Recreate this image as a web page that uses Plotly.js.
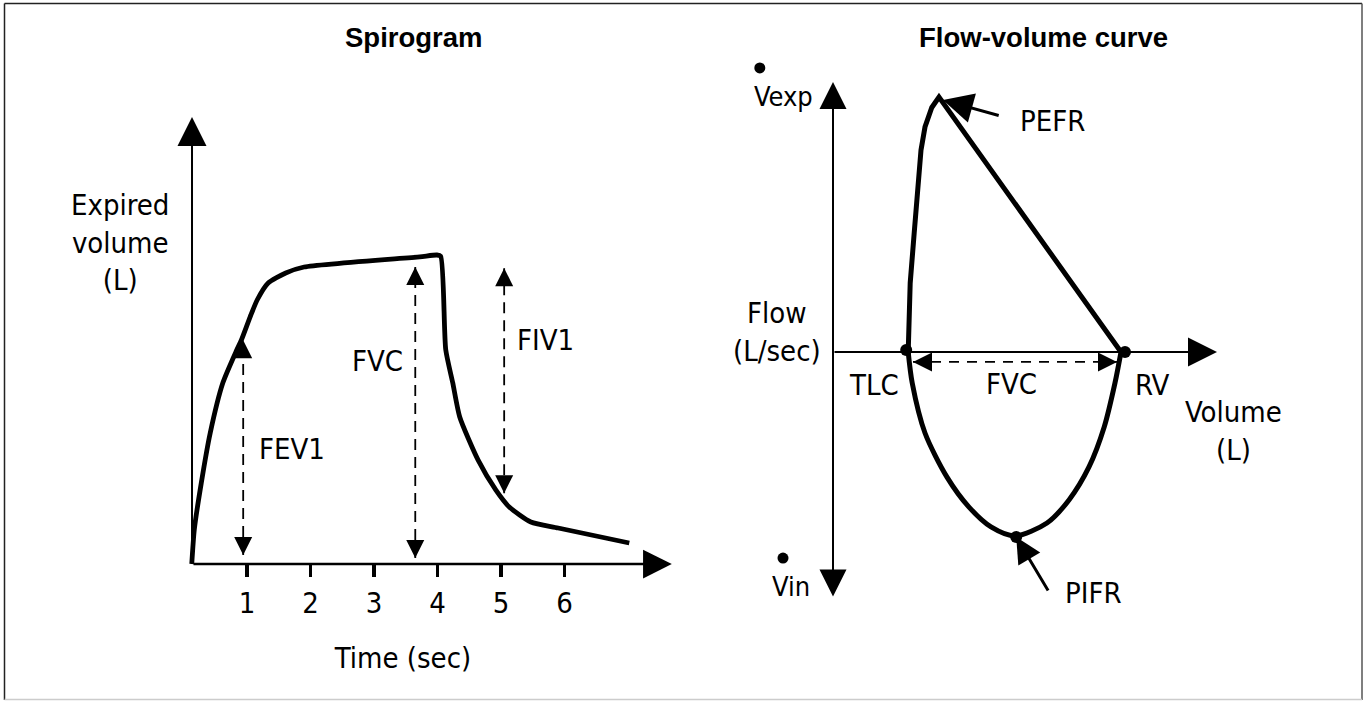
<!DOCTYPE html>
<html><head><meta charset="utf-8">
<script src="https://cdn.plot.ly/plotly-3.0.1.min.js"></script>
<style>html,body{margin:0;padding:0;background:#fff;} #chart{width:1364px;height:701px;}</style>
</head><body><div id="chart"></div>
<script>
// ---------- Spirogram data (time in s, expired volume in L) ----------
const spiroTime   = [0.13,0.17,0.28,0.42,0.62,0.84,0.91,1.05,1.16,1.33,1.61,1.90,3.72,3.99,4.05,4.13,4.24,4.35,4.64,4.92,5.13,5.47,5.90,7.02];
const spiroVolume = [0.00,0.57,1.35,2.18,3.02,3.57,3.73,4.12,4.40,4.68,4.85,4.95,5.12,5.15,5.13,3.57,3.02,2.45,1.73,1.23,0.95,0.70,0.60,0.35];
const timeTicks   = [1,2,3,4,5,6];
const timeTickText = ['1','2','3','4','5','6'];
const spiroMeasureLabels = ['FEV1','FVC','FIV1'];
const spiroMeasureTime   = [0.94, 3.65, 5.05];
const spiroMeasureTop    = [3.73, 4.95, 4.93];
const spiroMeasureBottom = [0.15, 0.10, 1.18];
const spiroAxisOrigin = [0.134, 0];
const spiroAxisEndTime = 7.69;
const spiroAxisEndVolume = 7.45;

// ---------- Flow-volume data (volume in L, flow in L/s) ----------
const expVolume  = [1.88,1.93,2.03,2.13,2.20,2.30,2.47,2.65,7.20];
const expFlow    = [0.00,2.30,3.97,5.63,6.73,7.50,8.15,8.50,0.00];
const inspVolume = [1.88,1.98,2.30,2.85,3.40,3.95,4.55,5.35,5.90,6.40,6.78,7.05,7.20];
const inspFlow   = [0.00,-1.03,-2.70,-4.17,-5.17,-5.83,-6.13,-5.70,-4.93,-3.83,-2.50,-1.03,0.00];
const keyPointNames  = ['TLC','RV','PIFR'];
const keyPointVolume = [1.83, 7.30, 4.58];
const keyPointFlow   = [0.07, 0.00, -6.17];
const pefrVolume = 2.75, pefrFlow = 8.40;
const fvcStartVolume = 2.0, fvcEndVolume = 7.1, fvcFlow = -0.33;
const flowAxisTop = 9.0, flowAxisBottom = -8.2, volumeAxisEnd = 9.6;
const vdotVolume = [-1.83, -1.25];
const vdotFlow   = [9.47, -6.87];

// ---------- styling ----------
const NARROW = '"Liberation Sans Narrow", "Arial Narrow", "DejaVu Sans Condensed", sans-serif';
const BOLD = '"Liberation Sans", Arial, sans-serif';
const W = 1364, H = 701;
const px2x = p => p / W;
const px2y = p => 1 - p / H;

const traces = [];
// spirogram curve
traces.push({x: spiroTime, y: spiroVolume, xaxis:'x', yaxis:'y', mode:'lines',
  line:{color:'black', width:4.8, shape:'spline', smoothing:0.6}, hoverinfo:'skip', showlegend:false});
// dashed measure lines
spiroMeasureLabels.forEach((lab,i)=>{
  traces.push({x:[spiroMeasureTime[i], spiroMeasureTime[i]], y:[spiroMeasureBottom[i], spiroMeasureTop[i]],
    xaxis:'x', yaxis:'y', mode:'lines', line:{color:'black', width:1.8, dash:'11px,7px'}, hoverinfo:'skip', showlegend:false});
});
// flow-volume loop
traces.push({x: expVolume, y: expFlow, xaxis:'x2', yaxis:'y2', mode:'lines',
  line:{color:'black', width:5, shape:'linear'}, hoverinfo:'skip', showlegend:false});
traces.push({x: inspVolume, y: inspFlow, xaxis:'x2', yaxis:'y2', mode:'lines',
  line:{color:'black', width:5, shape:'spline', smoothing:0.8}, hoverinfo:'skip', showlegend:false});
traces.push({x: keyPointVolume, y: keyPointFlow, xaxis:'x2', yaxis:'y2', mode:'markers',
  marker:{color:'black', size:12}, text:keyPointNames, hoverinfo:'text', showlegend:false});
traces.push({x: vdotVolume, y: vdotFlow, xaxis:'x2', yaxis:'y2', mode:'markers',
  marker:{color:'black', size:11}, hoverinfo:'skip', showlegend:false});
// FVC dashed line (right)
traces.push({x:[fvcStartVolume, fvcEndVolume], y:[fvcFlow, fvcFlow], xaxis:'x2', yaxis:'y2', mode:'lines',
  line:{color:'black', width:1.8, dash:'10px,8px'}, hoverinfo:'skip', showlegend:false});

// ---------- annotations ----------
const ann = [];
function arrow(ref, tipX, tipY, tailX, tailY, width, size, extra){
  const a = {xref:'x'+ref, yref:'y'+ref, axref:'x'+ref, ayref:'y'+ref, x:tipX, y:tipY, ax:tailX, ay:tailY,
    text:'', showarrow:true, arrowhead:2, arrowwidth:width, arrowsize:size, arrowcolor:'black'};
  return Object.assign(a, extra||{});
}
function label(ref, x, y, text, opts){
  return Object.assign({xref: ref==='paper'?'paper':'x'+ref, yref: ref==='paper'?'paper':'y'+ref,
    x:x, y:y, text:text, showarrow:false, font:{family:NARROW, size:29, color:'black'},
    xanchor:'center', yanchor:'middle'}, opts||{});
}
// left axes
ann.push(arrow('', spiroAxisOrigin[0], spiroAxisEndVolume, spiroAxisOrigin[0], spiroAxisOrigin[1], 2, 2.9));
ann.push(arrow('', spiroAxisEndTime, spiroAxisOrigin[1], spiroAxisOrigin[0], spiroAxisOrigin[1], 2.5, 2.3));
// spirogram measure arrow heads
const headV = 18/60;
spiroMeasureLabels.forEach((lab,i)=>{
  ann.push(arrow('', spiroMeasureTime[i], spiroMeasureTop[i], spiroMeasureTime[i], spiroMeasureTop[i]-headV, 2, 1.8));
  ann.push(arrow('', spiroMeasureTime[i], spiroMeasureBottom[i], spiroMeasureTime[i], spiroMeasureBottom[i]+headV, 2, 1.8));
});
ann.push(label('', 1.16, 1.92, spiroMeasureLabels[0], {xanchor:'left'}));
ann.push(label('', 3.06, 3.38, spiroMeasureLabels[1]));
ann.push(label('', 5.22, 3.73, spiroMeasureLabels[2], {xanchor:'left'}));
ann.push(label('paper', px2x(120), px2y(243), 'Expired<br>volume<br>(L)'));
ann.push(label('paper', px2x(414), px2y(38), 'Spirogram', {font:{family:BOLD, size:27.5, color:'black', weight:'bold'}}));
ann.push(label('paper', px2x(1043), px2y(38), 'Flow-volume curve', {font:{family:BOLD, size:27.5, color:'black', weight:'bold'}}));

// right axes
ann.push(arrow('2', 0, flowAxisTop, 0, flowAxisBottom, 2, 2.7, {arrowside:'end+start', startarrowhead:2, startarrowsize:2.7}));
ann.push(arrow('2', volumeAxisEnd, 0, 0, 0, 2, 2.9));
// FVC heads right
ann.push(arrow('2', fvcStartVolume, fvcFlow, fvcStartVolume + 18/40, fvcFlow, 2, 1.9));
ann.push(arrow('2', fvcEndVolume, fvcFlow, fvcEndVolume - 18/40, fvcFlow, 2, 1.9));
// PEFR / PIFR pointers
ann.push(arrow('2', pefrVolume, pefrFlow, 4.18, 7.87, 3, 2));
ann.push(arrow('2', keyPointVolume[2], keyPointFlow[2], 5.4, -8.0, 3, 1.7));
ann.push(label('2', 5.48, 7.7, 'PEFR'));
ann.push(label('2', 6.5, -8.03, 'PIFR'));
ann.push(label('2', 1.03, -1.1, 'TLC'));
ann.push(label('2', 4.45, -1.07, 'FVC'));
ann.push(label('2', 7.98, -1.1, 'RV'));
ann.push(label('2', 10.0, -2.63, 'Volume<br>(L)'));
ann.push(label('2', -1.4, 0.67, 'Flow<br>(L/sec)'));
ann.push(label('2', -1.25, 8.53, 'Vexp', {font:{family:NARROW, size:27, color:'black'}}));
ann.push(label('2', -1.05, -7.83, 'Vin', {font:{family:NARROW, size:27, color:'black'}}));

// ---------- layout ----------
const layout = {
  width: W, height: H, margin:{l:0,r:0,t:0,b:0}, paper_bgcolor:'white', plot_bgcolor:'rgba(0,0,0,0)',
  showlegend:false,
  xaxis:{domain:[px2x(130), px2x(676)], range:[(130-183.5)/63.5, (676-183.5)/63.5], anchor:'free', position: px2y(564),
    showline:false, showgrid:false, zeroline:false, ticks:'outside', ticklen:12, tickwidth:3.5, tickcolor:'black',
    tickvals: timeTicks, ticktext: timeTickText, ticklabelstandoff: 1,
    tickfont:{family:NARROW, size:29, color:'black'},
    title:{text:'Time (sec)', font:{family:NARROW, size:29, color:'black'}, standoff:28}},
  yaxis:{domain:[px2y(640), px2y(90)], range:[(564-640)/60, (564-90)/60], visible:false, anchor:'x'},
  xaxis2:{domain:[px2x(720), px2x(1300)], range:[(720-833)/40, (1300-833)/40], visible:false, anchor:'y2'},
  yaxis2:{domain:[px2y(620), px2y(40)], range:[(352-620)/30, (352-40)/30], visible:false, anchor:'x2'},
  annotations: ann,
  shapes:[
    {type:'line', xref:'paper', yref:'paper', x0:px2x(4.5), x1:px2x(1362), y0:px2y(3.5), y1:px2y(3.5), line:{color:'#222', width:1.5}},
    {type:'line', xref:'paper', yref:'paper', x0:px2x(4.5), x1:px2x(4.5), y0:px2y(3.5), y1:px2y(700), line:{color:'#222', width:1.5}},
    {type:'line', xref:'paper', yref:'paper', x0:px2x(1362), x1:px2x(1362), y0:px2y(3.5), y1:px2y(700), line:{color:'#555', width:1.5}},
    {type:'line', xref:'paper', yref:'paper', x0:px2x(4.5), x1:px2x(1362), y0:px2y(699.5), y1:px2y(699.5), line:{color:'#ccc', width:1.5}}
  ]
};
Plotly.newPlot('chart', traces, layout, {displayModeBar:false, staticPlot:true});
</script></body></html>
